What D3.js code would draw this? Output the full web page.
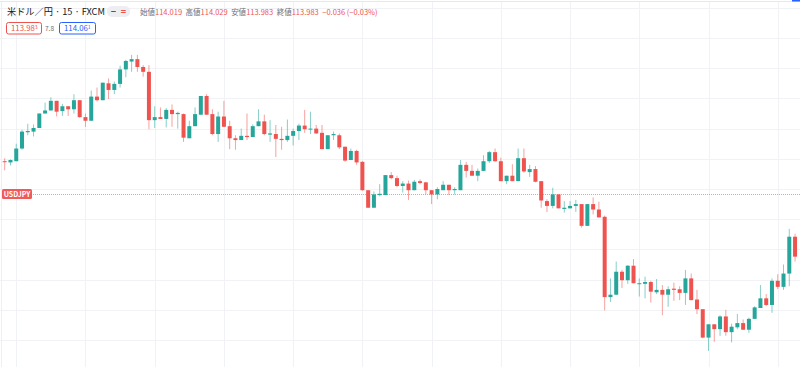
<!DOCTYPE html>
<html>
<head>
<meta charset="utf-8">
<script src="https://cdn.jsdelivr.net/npm/d3@7"></script>
<style>
  body { margin: 0; background: #fff; }
  svg { display: block; font-family: "Noto Sans CJK JP", "Noto Sans", sans-serif; }
</style>
</head>
<body>
<script>
// 15分足 USDJPY (FXCM)
const opens = [
  114.046,114.044,114.046,114.067,114.094,114.095,114.101,114.125,114.130,114.146,
  114.129,114.137,114.132,114.147,114.119,114.113,114.153,114.147,114.175,114.164,
  114.174,114.198,114.211,114.215,114.202,114.194,114.114,114.119,114.116,114.131,
  114.124,114.124,114.084,114.104,114.123,114.154,114.124,114.091,114.120,114.104,
  114.084,114.081,114.088,114.086,114.104,114.112,114.090,114.091,114.083,114.081,
  114.088,114.096,114.105,114.099,114.100,114.093,114.066,114.089,114.089,114.070,
  114.048,114.063,114.045,113.998,113.969,113.990,113.990,114.023,114.018,114.005,
  114.009,113.998,114.013,114.011,113.998,113.991,113.998,114.007,113.998,113.998,
  114.040,114.030,114.022,114.030,114.046,114.061,114.046,114.013,114.022,114.013,
  114.051,114.028,114.033,114.013,113.980,113.972,113.991,113.967,113.968,113.972,
  113.975,113.939,113.975,113.966,113.954,113.821,113.825,113.863,113.849,113.873,
  113.843,113.843,113.846,113.829,113.833,113.825,113.835,113.834,113.828,113.852,
  113.817,113.801,113.754,113.776,113.768,113.789,113.763,113.771,113.778,113.767,
  113.785,113.803,113.819,113.808,113.848,113.838,113.860,113.921
];
const highs = [
  114.051,114.049,114.075,114.098,114.108,114.107,114.125,114.143,114.152,114.146,
  114.141,114.137,114.157,114.147,114.125,114.163,114.168,114.176,114.183,114.178,
  114.204,114.214,114.222,114.222,114.205,114.205,114.137,114.135,114.134,114.140,
  114.128,114.125,114.113,114.135,114.154,114.157,114.132,114.128,114.146,114.113,
  114.089,114.100,114.125,114.107,114.132,114.123,114.114,114.106,114.103,114.115,
  114.100,114.108,114.131,114.128,114.106,114.106,114.089,114.095,114.092,114.070,
  114.067,114.065,114.046,113.998,113.996,114.008,114.023,114.028,114.022,114.013,
  114.014,114.015,114.016,114.012,113.998,114.003,114.013,114.007,114.003,114.048,
  114.045,114.040,114.034,114.056,114.063,114.067,114.052,114.022,114.041,114.067,
  114.067,114.040,114.038,114.013,113.983,114.002,113.991,113.980,113.980,113.982,
  113.975,113.975,113.986,113.979,113.956,113.852,113.880,113.866,113.874,113.884,
  113.852,113.855,113.848,113.851,113.841,113.839,113.845,113.839,113.866,113.860,
  113.833,113.801,113.776,113.776,113.791,113.800,113.777,113.793,113.784,113.787,
  113.806,113.841,113.826,113.852,113.859,113.875,113.934,113.926
];
const lows = [
  114.031,114.039,114.046,114.065,114.089,114.087,114.101,114.125,114.130,114.120,
  114.121,114.121,114.125,114.118,114.103,114.113,114.145,114.147,114.149,114.157,
  114.168,114.185,114.194,114.194,114.186,114.099,114.101,114.116,114.102,114.103,
  114.100,114.078,114.084,114.104,114.123,114.123,114.089,114.078,114.103,114.066,
  114.065,114.081,114.081,114.086,114.104,114.089,114.078,114.053,114.065,114.078,
  114.072,114.081,114.093,114.091,114.091,114.066,114.066,114.081,114.066,114.045,
  114.048,114.040,113.997,113.969,113.969,113.988,113.990,114.016,114.003,113.994,
  113.982,113.998,114.008,113.991,113.975,113.983,113.998,113.990,113.991,113.998,
  114.019,114.022,114.013,114.030,114.043,114.045,114.013,114.008,114.013,114.013,
  114.027,114.020,114.011,113.969,113.962,113.968,113.968,113.961,113.968,113.962,
  113.936,113.939,113.958,113.953,113.799,113.813,113.825,113.836,113.843,113.844,
  113.822,113.819,113.812,113.826,113.791,113.805,113.815,113.816,113.808,113.816,
  113.793,113.753,113.732,113.747,113.757,113.757,113.746,113.768,113.767,113.762,
  113.785,113.803,113.806,113.795,113.834,113.833,113.839,113.880
];
const closes = [
  114.045,114.048,114.067,114.095,114.096,114.101,114.125,114.130,114.146,114.128,
  114.137,114.132,114.147,114.119,114.113,114.153,114.147,114.176,114.164,114.174,
  114.198,114.212,114.215,114.202,114.194,114.114,114.119,114.116,114.131,114.124,
  114.126,114.085,114.104,114.124,114.154,114.123,114.091,114.120,114.103,114.084,
  114.081,114.088,114.086,114.104,114.112,114.091,114.092,114.083,114.081,114.088,
  114.096,114.105,114.099,114.100,114.092,114.066,114.089,114.091,114.069,114.047,
  114.063,114.044,113.998,113.969,113.991,113.992,114.023,114.018,114.005,114.009,
  113.998,114.012,114.010,113.998,113.991,114.000,114.007,113.998,114.000,114.040,
  114.030,114.022,114.030,114.046,114.061,114.046,114.013,114.022,114.013,114.051,
  114.029,114.033,114.012,113.981,113.972,113.991,113.968,113.969,113.972,113.975,
  113.939,113.975,113.966,113.953,113.821,113.825,113.863,113.849,113.873,113.844,
  113.844,113.846,113.830,113.833,113.825,113.834,113.833,113.828,113.852,113.816,
  113.801,113.754,113.776,113.768,113.789,113.763,113.772,113.778,113.767,113.785,
  113.804,113.819,113.808,113.848,113.838,113.860,113.921,113.888
];
// 縦グリッド (3時間ごと) のローソク足位置
const timeGridIdx = [2, 14, 26, 38, 50, 62, 74, 86, 98, 110, 122, 134];
const priceLine = 113.992;

const W = 800, H = 367;
const up = "#26a69a", down = "#ef5350";

const svg = d3.select("body").append("svg").attr("width", W).attr("height", H);

const x = d3.scaleLinear().domain([0, opens.length - 1]).range([4.7, 795.05]);
const y = d3.scaleLinear().domain([113.70, 114.30]).range([370.2, 7.8]);

// grid
svg.append("g")
  .selectAll("line")
  .data(y.ticks(12))
  .enter()
  .append("line")
  .attr("x1", 0).attr("x2", W)
  .attr("y1", d => Math.round(y(d)) + 0.5)
  .attr("y2", d => Math.round(y(d)) + 0.5)
  .attr("stroke", "#f1f2f5");

svg.append("g")
  .selectAll("line")
  .data(timeGridIdx)
  .enter()
  .append("line")
  .attr("x1", d => Math.round(x(d)) + 0.5)
  .attr("x2", d => Math.round(x(d)) + 0.5)
  .attr("y1", 2).attr("y2", H)
  .attr("stroke", "#f1f2f5");

svg.append("line").attr("x1", 1.5).attr("x2", 1.5).attr("y1", 2).attr("y2", H).attr("stroke", "#eeeff2");
svg.append("line").attr("x1", 0).attr("x2", W).attr("y1", 1.5).attr("y2", 1.5).attr("stroke", "#e6e8ec");
svg.append("rect").attr("x", 792).attr("y", 0).attr("width", 8).attr("height", 1.5).attr("fill", "#2962ff");

// price line
const py = Math.round(y(priceLine)) + 0.5;
svg.append("line")
  .attr("x1", 33).attr("x2", W)
  .attr("y1", py).attr("y2", py)
  .attr("stroke", down).attr("stroke-opacity", 0.6)
  .attr("stroke-dasharray", "1,1");
svg.append("rect").attr("x", 2).attr("y", py - 5.5).attr("width", 30).attr("height", 10).attr("rx", 1.5).attr("fill", "#f05a5a");
svg.append("text").attr("x", 17).attr("y", py + 2.6).attr("text-anchor", "middle")
  .attr("font-size", 7).attr("font-weight", "bold").attr("fill", "#fff").text("USDJPY");

// candles
const candles = svg.append("g")
  .selectAll("g")
  .data(opens.map((o, i) => ({ i: i, o: o, h: highs[i], l: lows[i], c: closes[i] })))
  .enter()
  .append("g");

candles.append("line")
  .attr("x1", d => x(d.i)).attr("x2", d => x(d.i))
  .attr("y1", d => y(d.h)).attr("y2", d => y(d.l))
  .attr("stroke", d => d.c >= d.o ? up : down)
  .attr("stroke-opacity", 0.55);

candles.append("rect")
  .attr("x", d => x(d.i) - 2)
  .attr("width", 4)
  .attr("y", d => y(Math.max(d.o, d.c)))
  .attr("height", d => Math.max(1, Math.abs(y(d.o) - y(d.c))))
  .attr("fill", d => d.c >= d.o ? up : down);

// header
const head = svg.append("g");
head.append("text").attr("x", 7).attr("y", 15).attr("font-size", 9.2).attr("fill", "#131722")
  .text("米ドル／円 · 15 · FXCM");

head.append("rect").attr("x", 107).attr("y", 6).attr("width", 23).attr("height", 11).attr("rx", 5).attr("fill", "#eceef2");
head.append("text").attr("x", 113.5).attr("y", 14.5).attr("text-anchor", "middle").attr("font-size", 9).attr("font-weight", "bold").attr("fill", "#555").text("−");
head.append("text").attr("x", 123.5).attr("y", 14.5).attr("text-anchor", "middle").attr("font-size", 9).attr("font-weight", "bold").attr("fill", down).text("=");

const ohlcLabels = ["始値", "高値", "安値", "終値"];
const ohlcValues = ["114.019", "114.029", "113.983", "113.983"];
const ohlc = head.append("text").attr("x", 140).attr("y", 15).attr("font-size", 7.5);
ohlcLabels.forEach((lab, k) => {
  ohlc.append("tspan").attr("fill", "#6a6d78").attr("dx", k ? 3.5 : 0).text(lab);
  ohlc.append("tspan").attr("fill", down).text(ohlcValues[k]);
});
ohlc.append("tspan").attr("fill", down).attr("dx", 3.5).text("−0.036 (−0.03%)");

// bid / spread / ask
function priceBox(x0, w, main, sup, color) {
  head.append("rect").attr("x", x0 + 0.5).attr("y", 22.5).attr("width", w).attr("height", 11.5)
    .attr("rx", 2).attr("fill", "#fff").attr("stroke", color);
  const t = head.append("text").attr("x", x0 + 5).attr("y", 31.3).attr("font-size", 7.8).attr("fill", color);
  t.append("tspan").text(main);
  t.append("tspan").attr("font-size", 5).attr("dy", -2.5).text(sup);
}
priceBox(6, 35, "113.98", "3", down);
head.append("text").attr("x", 45).attr("y", 31).attr("font-size", 6.5).attr("fill", "#6a6d78").text("7.8");
priceBox(59, 36, "114.06", "1", "#2962ff");
</script>
</body>
</html>
